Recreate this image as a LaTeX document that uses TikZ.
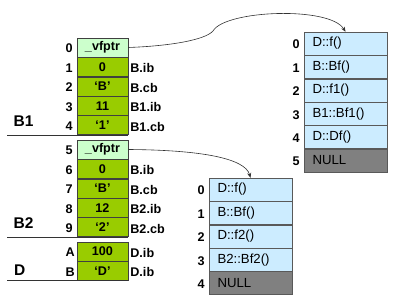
\documentclass[tikz,border=0pt]{standalone}
\usepackage{fontspec}
\setmainfont{Liberation Sans}
\usetikzlibrary{positioning,arrows.meta}
\definecolor{vpgreen}{HTML}{CCFFCC}
\definecolor{slotgreen}{HTML}{99CC00}
\definecolor{vtblue}{HTML}{CCECFF}
\definecolor{nullgray}{HTML}{808080}
\newcommand\cellfont{\fontsize{12.6}{14}\selectfont\bfseries}
\newcommand\fnfont{\fontsize{13.2}{14}\selectfont}

\begin{document}
\begin{tikzpicture}[x=1pt,y=-1pt,>={Stealth[length=5pt,width=4pt]},
  vptr/.style={draw=black!75, fill=vpgreen, minimum width=51pt, minimum height=19pt, inner sep=0pt, font=\cellfont},
  slot/.style={vptr, fill=slotgreen},
  idx/.style={inner sep=0pt, font=\cellfont, yshift=-1pt},
  fld/.style={inner sep=0pt, font=\cellfont, yshift=-1.5pt},
  grp/.style={inner sep=0pt, font=\fontsize{15.5}{17}\selectfont\bfseries},
  fn/.style={draw=black!65, fill=vtblue, text width=66pt, minimum height=23pt, inner xsep=8.5pt, inner ysep=0pt, align=left, font=\fnfont},
  nul/.style={fn, fill=nullgray}]
\useasboundingbox (0,0) rectangle (400,305);

\node[vptr] (b1p) at (102.5,47.5) {\_vfptr};
\node[slot, below=0pt of b1p] (b1r1) {0};
\node[slot, below=0pt of b1r1] (b1r2) {`B'};
\node[slot, below=0pt of b1r2] (b1r3) {11};
\node[slot, below=0pt of b1r3] (b1r4) {`1'};

\node[vptr] (b2p) at (102.5,149.5) {\_vfptr};
\node[slot, below=0pt of b2p] (b2r1) {0};
\node[slot, below=0pt of b2r1] (b2r2) {`B'};
\node[slot, below=0pt of b2r2] (b2r3) {12};
\node[slot, below=0pt of b2r3] (b2r4) {`2'};

\node[slot] (dra) at (102.5,251.5) {100};
\node[slot, below=0pt of dra] (drb) {`D'};

\node[idx, left=4pt of b1p] (n0) {0};
\node[idx, left=4pt of b1r1] (n1) {1};
\node[idx, left=4pt of b1r2] (n2) {2};
\node[idx, left=4pt of b1r3] (n3) {3};
\node[idx, left=4pt of b1r4] (n4) {4};
\node[idx, left=4pt of b2p] (n5) {5};
\node[idx, left=4pt of b2r1] (n6) {6};
\node[idx, left=4pt of b2r2] (n7) {7};
\node[idx, left=4pt of b2r3] (n8) {8};
\node[idx, left=4pt of b2r4] (n9) {9};
\node[idx, left=2pt of dra] (na) {A};
\node[idx, left=2pt of drb] (nb) {B};

\node[fld, right=2pt of b1r1] (f1) {B.ib};
\node[fld, right=2pt of b1r2] (f2) {B.cb};
\node[fld, right=2pt of b1r3] (f3) {B1.ib};
\node[fld, right=2pt of b1r4] (f4) {B1.cb};
\node[fld, right=2pt of b2r1] (f6) {B.ib};
\node[fld, right=2pt of b2r2] (f7) {B.cb};
\node[fld, right=2pt of b2r3] (f8) {B2.ib};
\node[fld, right=2pt of b2r4] (f9) {B2.cb};
\node[fld, right=2pt of dra] (fa) {D.ib};
\node[fld, right=2pt of drb] (fb) {D.ib};

\node[grp] (g1) at (23.5,121) {B1};
\node[grp] (g2) at (23.5,223) {B2};
\node[grp, anchor=west] (g3) at (14,270) {D};

\draw[black!80] (b1r4.south east) -- ++(-121,0);
\draw[black!80] (b2r4.south east) -- ++(-121,0);
\draw[black!80] (drb.south east) -- ++(-121,0);

\node[fn] (t1r0) at (345.5,43.5) {D::f()};
\node[fn, below=0pt of t1r0] (t1r1) {B::Bf()};
\node[fn, below=0pt of t1r1] (t1r2) {D::f1()};
\node[fn, below=0pt of t1r2] (t1r3) {B1::Bf1()};
\node[fn, below=0pt of t1r3] (t1r4) {D::Df()};
\node[nul, below=0pt of t1r4] (t1r5) {NULL};

\node[idx, left=4pt of t1r0] (m0) {0};
\node[idx, left=4pt of t1r1] (m1) {1};
\node[idx, left=4pt of t1r2] (m2) {2};
\node[idx, left=4pt of t1r3] (m3) {3};
\node[idx, left=4pt of t1r4] (m4) {4};
\node[idx, left=4pt of t1r5] (m5) {5};

\node[fn] (t2r0) at (250.5,189.5) {D::f()};
\node[fn, below=0pt of t2r0] (t2r1) {B::Bf()};
\node[fn, below=0pt of t2r1] (t2r2) {D::f2()};
\node[fn, below=0pt of t2r2] (t2r3) {B2::Bf2()};
\node[nul, below=0pt of t2r3] (t2r4) {NULL};

\node[idx, left=4pt of t2r0] (k0) {0};
\node[idx, left=4pt of t2r1] (k1) {1};
\node[idx, left=4pt of t2r2] (k2) {2};
\node[idx, left=4pt of t2r3] (k3) {3};
\node[idx, left=4pt of t2r4] (k4) {4};

\draw[->, black!80, line width=0.6pt] (b1p.east) .. controls (170,46) and (205,40) .. (213,31)
  .. controls (225,10) and (330,6) .. (t1r0.north);
\draw[->, black!80, line width=0.6pt] (b2p.east) .. controls (200,150) and (245,158) .. (t2r0.north);
\end{tikzpicture}
\end{document}
